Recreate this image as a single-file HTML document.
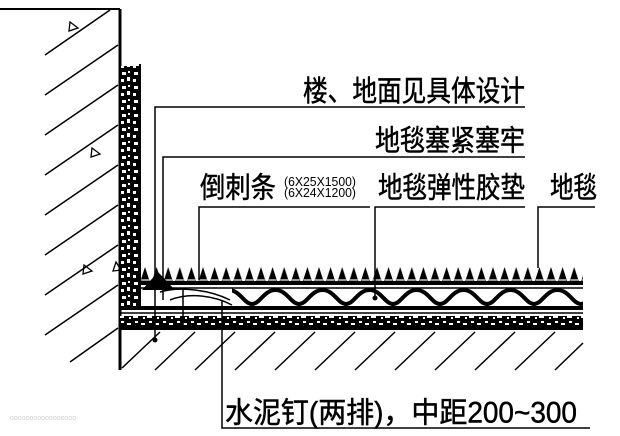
<!DOCTYPE html>
<html><head><meta charset="utf-8"><style>
html,body{margin:0;padding:0;background:#fff;}
svg{display:block;}
text{font-family:"Liberation Sans","Noto Sans CJK SC","WenQuanYi Zen Hei",sans-serif;fill:#000;}
</style></head><body>
<svg width="620" height="436" viewBox="0 0 620 436" xmlns="http://www.w3.org/2000/svg">
<defs>
<pattern id="teeth" x="0" y="265" width="11.6" height="20" patternUnits="userSpaceOnUse">
<path d="M0 20 L5.8 2 L11.6 20 Z" fill="#000"/>
<path d="M2 15 L9.6 15" stroke="#fff" stroke-width="1.2"/>
</pattern>
<pattern id="wave" x="158" y="286" width="47" height="22" patternUnits="userSpaceOnUse">
<path d="M0 18 C8 18 12 4 23.5 4 C35 4 39 18 47 18" fill="none" stroke="#000" stroke-width="4"/>
</pattern>
<pattern id="speck" width="14" height="10" patternUnits="userSpaceOnUse">
<rect width="14" height="10" fill="#000"/>
<path d="M1 3h4v2h-4zM7 6h5v2h-5zM9 1h3v2h-3zM3 7h2v2h-2z" fill="#fff"/>
</pattern>
<pattern id="speckv" width="12" height="14" patternUnits="userSpaceOnUse">
<rect width="12" height="14" fill="#000"/>
<path d="M2 2h4v3h-4zM7 7h3v4h-3zM1 9h3v3h-3zM8 1h2v2h-2z" fill="#fff"/>
</pattern>
</defs>

<!-- wall -->
<line x1="0" y1="9" x2="120" y2="9" stroke="#000" stroke-width="2"/>
<line x1="120" y1="9" x2="120" y2="370" stroke="#000" stroke-width="3"/>
<g stroke="#000" stroke-width="1.5">
<line x1="45" y1="55" x2="110" y2="10"/>
<line x1="45" y1="95" x2="118" y2="45"/>
<line x1="45" y1="135" x2="118" y2="85"/>
<line x1="45" y1="175" x2="118" y2="125"/>
<line x1="45" y1="215" x2="118" y2="165"/>
<line x1="45" y1="255" x2="118" y2="205"/>
<line x1="45" y1="295" x2="118" y2="245"/>
<line x1="45" y1="335" x2="118" y2="285"/>
<line x1="70" y1="362" x2="118" y2="328"/>
</g>
<g fill="none" stroke="#000" stroke-width="1.3">
<path d="M70 22 L78 28 L69 31 Z"/>
<path d="M92 148 L100 154 L91 157 Z"/>
<path d="M84 265 L92 271 L83 274 Z"/>
<path d="M116 262 L121 270 L113 271 Z"/>
</g>
<!-- plaster -->
<rect x="121" y="66" width="19" height="240" fill="url(#speckv)"/>
<line x1="140" y1="64" x2="140" y2="306" stroke="#000" stroke-width="2"/>

<!-- floor -->
<rect x="140" y="265" width="443" height="20" fill="url(#teeth)"/>
<rect x="140" y="281" width="443" height="4" fill="#000"/>
<line x1="140" y1="288" x2="583" y2="288" stroke="#000" stroke-width="1.5"/>
<rect x="232" y="286" width="351" height="22" fill="url(#wave)"/>
<path d="M142 290 L158 272 L175 290 Z" fill="#000"/>
<path d="M160 292 C180 286 210 290 230 300" fill="none" stroke="#000" stroke-width="1.5"/>
<path d="M170 300 C190 292 215 296 232 305" fill="none" stroke="#000" stroke-width="1.5"/>
<rect x="120" y="306" width="463" height="4" fill="#000"/>
<line x1="120" y1="313" x2="583" y2="313" stroke="#000" stroke-width="1.5"/>
<rect x="120" y="316" width="463" height="11" fill="url(#speck)"/>
<rect x="120" y="326" width="463" height="4" fill="#000"/>
<g stroke="#000" stroke-width="1.5">
<line x1="122" y1="368" x2="160" y2="332"/>
<line x1="155" y1="370" x2="195" y2="332"/>
<line x1="195" y1="370" x2="235" y2="332"/>
<line x1="235" y1="370" x2="275" y2="332"/>
<line x1="275" y1="370" x2="315" y2="332"/>
<line x1="315" y1="370" x2="355" y2="332"/>
<line x1="355" y1="370" x2="395" y2="332"/>
<line x1="395" y1="370" x2="435" y2="332"/>
<line x1="435" y1="370" x2="475" y2="332"/>
<line x1="475" y1="370" x2="515" y2="332"/>
<line x1="515" y1="370" x2="555" y2="332"/>
<line x1="555" y1="370" x2="583" y2="343"/>
</g>

<!-- leaders -->
<g stroke="#000" stroke-width="1.5" fill="none">
<polyline points="525,107 155,107 155,340"/>
<polyline points="525,157 163,157 163,300"/>
<polyline points="370,207 199,207 199,280"/>
<polyline points="525,207 375,207 375,298"/>
<polyline points="595,207 538,207 538,268"/>
<polyline points="590,428 222,428 222,300"/>
<line x1="183" y1="290" x2="183" y2="325"/>
</g>
<circle cx="155" cy="340" r="2.5"/>
<circle cx="375" cy="298" r="2.5"/>

<!-- labels -->
<g font-size="25" stroke="#000" stroke-width="0.4">
<text x="303" y="101" textLength="222" lengthAdjust="spacingAndGlyphs" transform="translate(0,-17) scale(1,1.17)">楼、地面见具体设计</text>
<text x="375" y="150" textLength="150" lengthAdjust="spacingAndGlyphs" transform="translate(0,-25) scale(1,1.17)">地毯塞紧塞牢</text>
<text x="200" y="197" textLength="76" lengthAdjust="spacingAndGlyphs" transform="translate(0,-33) scale(1,1.17)">倒刺条</text>
<text x="378" y="197" textLength="147" lengthAdjust="spacingAndGlyphs" transform="translate(0,-33) scale(1,1.17)">地毯弹性胶垫</text>
<text x="550" y="197" textLength="47" lengthAdjust="spacingAndGlyphs" transform="translate(0,-33) scale(1,1.17)">地毯</text>
<text x="225" y="422" textLength="352" lengthAdjust="spacingAndGlyphs" transform="translate(0,-71) scale(1,1.17)">水泥钉(两排)，中距200~300</text>
</g>
<g font-size="13">
<text x="284" y="186" textLength="72" lengthAdjust="spacingAndGlyphs">(6X25X1500)</text>
<text x="284" y="197" textLength="72" lengthAdjust="spacingAndGlyphs">(6X24X1200)</text>
</g>
<text x="10" y="420" font-size="7" style="fill:#cfcfcf">ooooooooooooooooo</text>
</svg>
</body></html>
